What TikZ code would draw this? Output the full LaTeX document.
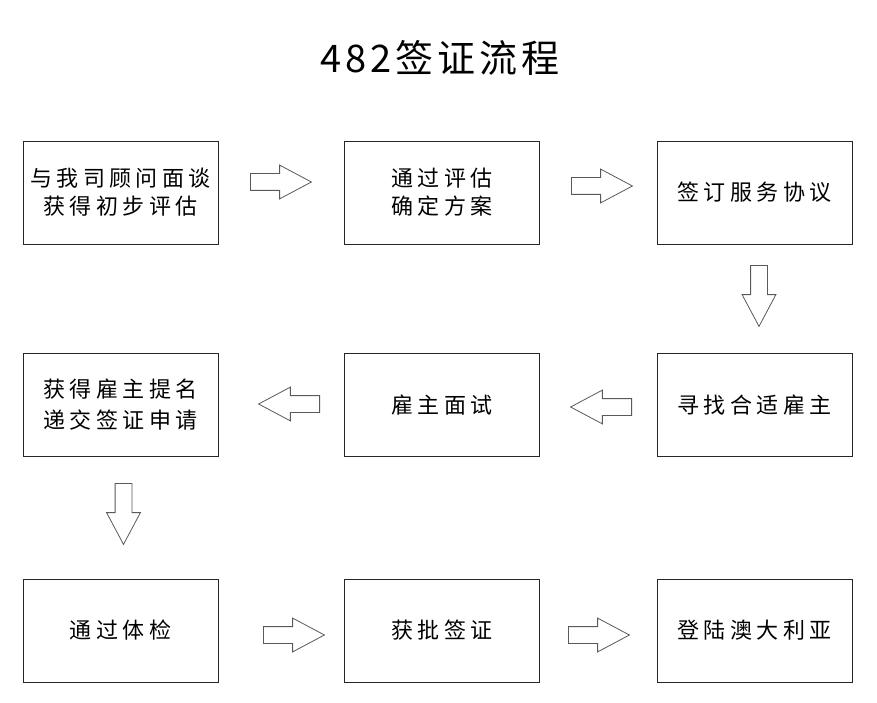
\documentclass[tikz,border=0pt]{standalone}
\usepackage{fontspec}
\usetikzlibrary{shapes.arrows}
\newfontfamily\cjk[LetterSpace=20]{Noto Sans CJK SC}
\newfontfamily\cjktitre[LetterSpace=10]{Noto Sans CJK SC}

\begin{document}
\begin{tikzpicture}[x=1pt,y=-1pt,
  boite/.style={draw=black!85,line width=0.9pt,minimum width=195pt,minimum height=103pt,
    align=center,font=\cjk\fontsize{22}{28}\selectfont,inner sep=0pt},
  fleche/.style={single arrow,draw=black!65,line width=0.8pt,inner sep=8pt,anchor=tail,
    single arrow head extend=8.5pt,single arrow tip angle=56,minimum height=61pt}]
\useasboundingbox (0,0) rectangle (877,703);

%titre
\node (titre) at (440,58) {\cjktitre\fontsize{38}{40}\selectfont 482签证流程};

%premiere ligne
\node[boite] (b1) at (120.5,192.5) {与我司顾问面谈\\获得初步评估};
\node[boite] (b2) at (442,192.5) {通过评估\\确定方案};
\node[boite] (b3) at (754.5,192.5) {签订服务协议};

%deuxieme ligne
\node[boite] (b4) at (754.5,405) {寻找合适雇主};
\node[boite] (b5) at (442,405) {雇主面试};
\node[boite,font=\cjk\fontsize{22}{31}\selectfont] (b6) at (120.5,405) {获得雇主提名\\递交签证申请};

%troisieme ligne
\node[boite] (b7) at (120.5,630.5) {通过体检};
\node[boite] (b8) at (442,630.5) {获批签证};
\node[boite] (b9) at (754.5,630.5) {登陆澳大利亚};

%fleches (placees par la queue)
\node[fleche] (f1) at (250,182) {};
\node[fleche] (f2) at (571,186) {};
\node[fleche,shape border rotate=270] (f3) at (759,265) {};
\node[fleche,shape border rotate=180] (f4) at (320,404) {};
\node[fleche,shape border rotate=180] (f5) at (632,407) {};
\node[fleche,shape border rotate=270] (f6) at (123.5,483) {};
\node[fleche] (f7) at (263,635) {};
\node[fleche] (f8) at (568,635) {};

\end{tikzpicture}
\end{document}
